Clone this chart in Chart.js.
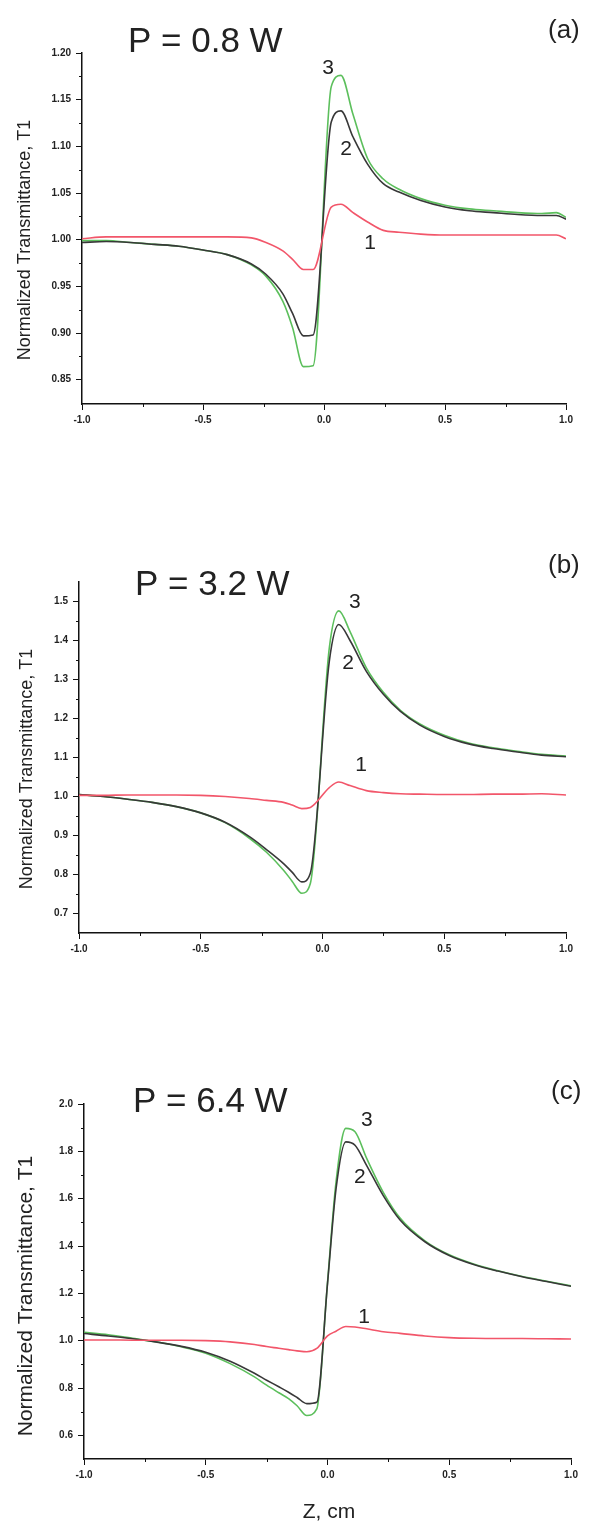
<!DOCTYPE html>
<html>
<head>
<meta charset="utf-8">
<script src="https://cdn.jsdelivr.net/npm/chart.js@4.4.1/dist/chart.umd.min.js"></script>
<style>
  html, body { margin: 0; padding: 0; background: #fff; }
  body { width: 597px; height: 1524px; position: relative; overflow: hidden; }
  canvas { position: absolute; left: 0; }
</style>
</head>
<body>
<canvas id="chartA" width="597" height="445" style="top:0px"></canvas>
<canvas id="chartB" width="597" height="440" style="top:530px"></canvas>
<canvas id="chartC" width="597" height="464" style="top:1060px"></canvas>
<script>
// (a) P = 0.8 W
var zA = [-1.0, -0.9, -0.8, -0.7, -0.6, -0.5, -0.4, -0.3, -0.24, -0.17, -0.13, -0.085, -0.045, 0.03, 0.07, 0.12, 0.18, 0.245, 0.31, 0.4, 0.5, 0.6, 0.7, 0.8, 0.9, 0.96, 1.0];
var redA = [1.001, 1.003, 1.003, 1.003, 1.003, 1.003, 1.003, 1.002, 0.997, 0.988, 0.979, 0.968, 0.968, 1.035, 1.038, 1.029, 1.019, 1.010, 1.008, 1.006, 1.005, 1.005, 1.005, 1.005, 1.005, 1.005, 1.001];
var blackA = [0.997, 0.998, 0.997, 0.995, 0.993, 0.989, 0.984, 0.974, 0.963, 0.942, 0.921, 0.897, 0.898, 1.126, 1.138, 1.110, 1.081, 1.060, 1.051, 1.042, 1.035, 1.031, 1.029, 1.027, 1.026, 1.026, 1.022];
var greenA = [0.999, 0.999, 0.997, 0.995, 0.993, 0.989, 0.984, 0.973, 0.961, 0.934, 0.906, 0.864, 0.865, 1.164, 1.176, 1.134, 1.087, 1.065, 1.054, 1.044, 1.037, 1.033, 1.031, 1.029, 1.028, 1.029, 1.024];
var yTicksA = [0.85, 0.90, 0.95, 1.00, 1.05, 1.10, 1.15, 1.20];
var yMinorA = [0.875, 0.925, 0.975, 1.025, 1.075, 1.125, 1.175];

// (b) P = 3.2 W
var zB = [-1.0, -0.9, -0.8, -0.7, -0.6, -0.5, -0.4, -0.3, -0.23, -0.16, -0.125, -0.085, -0.05, 0.028, 0.067, 0.113, 0.18, 0.25, 0.32, 0.4, 0.5, 0.6, 0.7, 0.8, 0.9, 1.0];
var redB = [1.003, 1.003, 1.004, 1.004, 1.004, 1.003, 1.000, 0.995, 0.990, 0.985, 0.978, 0.969, 0.972, 1.023, 1.037, 1.028, 1.015, 1.010, 1.007, 1.006, 1.005, 1.005, 1.006, 1.006, 1.007, 1.004];
var blackB = [1.005, 1.000, 0.993, 0.985, 0.974, 0.958, 0.934, 0.897, 0.864, 0.828, 0.806, 0.781, 0.803, 1.347, 1.441, 1.400, 1.321, 1.262, 1.218, 1.183, 1.154, 1.135, 1.123, 1.114, 1.106, 1.102];
var greenB = [1.005, 1.000, 0.993, 0.985, 0.974, 0.958, 0.933, 0.893, 0.857, 0.811, 0.783, 0.752, 0.777, 1.381, 1.476, 1.423, 1.330, 1.267, 1.221, 1.186, 1.157, 1.137, 1.125, 1.116, 1.108, 1.104];
var yTicksB = [0.7, 0.8, 0.9, 1.0, 1.1, 1.2, 1.3, 1.4, 1.5];
var yMinorB = [0.75, 0.85, 0.95, 1.05, 1.15, 1.25, 1.35, 1.45];

// (c) P = 6.4 W
var zC = [-1.0, -0.9, -0.8, -0.7, -0.6, -0.5, -0.4, -0.3, -0.25, -0.2, -0.16, -0.125, -0.085, -0.044, 0.0, 0.035, 0.075, 0.113, 0.161, 0.229, 0.298, 0.4, 0.5, 0.6, 0.7, 0.8, 0.9, 1.0];
var redC = [1.003, 1.003, 1.002, 1.002, 1.002, 1.000, 0.995, 0.984, 0.975, 0.968, 0.962, 0.957, 0.953, 0.967, 1.020, 1.040, 1.060, 1.058, 1.050, 1.038, 1.031, 1.020, 1.013, 1.010, 1.009, 1.009, 1.008, 1.007];
var blackC = [1.030, 1.020, 1.008, 0.994, 0.976, 0.951, 0.913, 0.862, 0.833, 0.805, 0.782, 0.760, 0.734, 0.740, 1.240, 1.641, 1.840, 1.826, 1.740, 1.613, 1.510, 1.418, 1.360, 1.322, 1.294, 1.270, 1.250, 1.230];
var greenC = [1.035, 1.025, 1.010, 0.994, 0.974, 0.947, 0.903, 0.847, 0.812, 0.780, 0.755, 0.725, 0.684, 0.712, 1.245, 1.670, 1.897, 1.883, 1.770, 1.627, 1.518, 1.422, 1.363, 1.324, 1.295, 1.271, 1.251, 1.232];
var yTicksC = [0.6, 0.8, 1.0, 1.2, 1.4, 1.6, 1.8, 2.0];
var yMinorC = [0.7, 0.9, 1.1, 1.3, 1.5, 1.7, 1.9];

var zTicks = [-1.0, -0.5, 0.0, 0.5, 1.0];
var zMinor = [-0.75, -0.25, 0.25, 0.75];

var FONT = '"Liberation Sans", Arial, sans-serif';

function pairs(xs, ys) {
	var out = [];
	for (var i = 0; i < xs.length; i++) {
		out.push({x: xs[i], y: ys[i]});
	}
	return out;
}

// minor ticks, curve numbers, panel titles and the rotated axis title
var decor = {
	id: 'decor',
	afterDraw: function(chart, args, o) {
		var ctx = chart.ctx, xs = chart.scales.x, ys = chart.scales.y, area = chart.chartArea;
		ctx.save();
		ctx.strokeStyle = '#111';
		ctx.lineWidth = 1;
		o.xMinor.forEach(function(v) {
			var px = Math.round(xs.getPixelForValue(v)) + 0.5;
			ctx.beginPath(); ctx.moveTo(px, area.bottom); ctx.lineTo(px, area.bottom + 3); ctx.stroke();
		});
		o.yMinor.forEach(function(v) {
			var py = Math.round(ys.getPixelForValue(v)) + 0.5;
			ctx.beginPath(); ctx.moveTo(area.left - 3, py); ctx.lineTo(area.left, py); ctx.stroke();
		});

		ctx.fillStyle = '#222';
		ctx.textAlign = 'center';
		ctx.textBaseline = 'middle';
		ctx.font = '21px ' + FONT;
		o.marks.forEach(function(m) {
			ctx.fillText(m.text, xs.getPixelForValue(m.z), ys.getPixelForValue(m.v));
		});

		ctx.textBaseline = 'alphabetic';
		ctx.textAlign = 'left';
		ctx.font = '35px ' + FONT;
		ctx.fillText(o.title, o.titleX, o.titleY);
		ctx.font = '26px ' + FONT;
		ctx.fillText(o.tag, o.tagX, o.tagY);

		if (o.xTitle) {
			ctx.textAlign = 'center';
			ctx.font = '21px ' + FONT;
			ctx.fillText(o.xTitle, o.xTitleX, o.xTitleY);
		}

		ctx.translate(o.yTitleX, o.yTitleY);
		ctx.rotate(-Math.PI / 2);
		ctx.textAlign = 'center';
		ctx.textBaseline = 'middle';
		ctx.font = o.yTitleSize + 'px ' + FONT;
		ctx.fillText('Normalized Transmittance, T1', 0, 0);
		ctx.restore();
	}
};

function makePanel(p) {
	var datasets = [
		{label: '1', data: pairs(p.z, p.red), borderColor: '#f2566a'},
		{label: '2', data: pairs(p.z, p.black), borderColor: '#383838'},
		{label: '3', data: pairs(p.z, p.green), borderColor: '#5cbf5c'}
	];
	datasets.forEach(function(d) {
		d.borderWidth = 1.6;
		d.pointRadius = 0;
		d.fill = false;
		d.cubicInterpolationMode = 'monotone';
	});

	new Chart(document.getElementById(p.id), {
		type: 'line',
		data: {datasets: datasets},
		plugins: [decor],
		options: {
			responsive: false,
			animation: false,
			devicePixelRatio: 1,
			layout: {padding: {top: p.top, right: p.right, left: 0, bottom: 0}},
			plugins: {
				legend: {display: false},
				tooltip: {enabled: false},
				decor: p.decor
			},
			scales: {
				x: {
					type: 'linear',
					min: -1, max: 1,
					afterBuildTicks: function(s) { s.ticks = zTicks.map(function(v) { return {value: v}; }); },
					afterFit: function(s) { s.height = p.bottomSpace; },
					border: {display: true, color: '#111', width: 1.5},
					grid: {drawOnChartArea: false, drawTicks: true, tickLength: 6, tickColor: '#111', tickWidth: 1},
					ticks: {
						padding: 4,
						maxRotation: 0,
						color: '#222',
						font: {family: FONT, size: 10, weight: 'bold'},
						callback: function(v) { return Number(v).toFixed(1); }
					}
				},
				y: {
					type: 'linear',
					min: p.yMin, max: p.yMax,
					afterBuildTicks: function(s) { s.ticks = p.yTicks.map(function(v) { return {value: v}; }); },
					afterFit: function(s) { s.width = p.left; },
					border: {display: true, color: '#111', width: 1.5},
					grid: {drawOnChartArea: false, drawTicks: true, tickLength: 6, tickColor: '#111', tickWidth: 1},
					ticks: {
						padding: 5,
						color: '#222',
						font: {family: FONT, size: 10, weight: 'bold'},
						callback: function(v) { return Number(v).toFixed(p.digits); }
					}
				}
			}
		}
	});
}

makePanel({
	id: 'chartA', z: zA, red: redA, black: blackA, green: greenA,
	yMin: 0.824, yMax: 1.20, yTicks: yTicksA, digits: 2,
	left: 82, right: 31, top: 53, bottomSpace: 41,
	decor: {
		xMinor: zMinor, yMinor: yMinorA,
		marks: [{text: '3', z: 0.017, v: 1.184}, {text: '2', z: 0.091, v: 1.097}, {text: '1', z: 0.19, v: 0.996}],
		title: 'P = 0.8 W', titleX: 128, titleY: 52,
		tag: '(a)', tagX: 548, tagY: 38,
		yTitleX: 25, yTitleY: 240, yTitleSize: 18
	}
});

makePanel({
	id: 'chartB', z: zB, red: redB, black: blackB, green: greenB,
	yMin: 0.65, yMax: 1.55, yTicks: yTicksB, digits: 1,
	left: 79, right: 31, top: 52, bottomSpace: 37,
	decor: {
		xMinor: zMinor, yMinor: yMinorB,
		marks: [{text: '3', z: 0.133, v: 1.497}, {text: '2', z: 0.105, v: 1.342}, {text: '1', z: 0.158, v: 1.079}],
		title: 'P = 3.2 W', titleX: 135, titleY: 65,
		tag: '(b)', tagX: 548, tagY: 43,
		yTitleX: 27, yTitleY: 239, yTitleSize: 18
	}
});

makePanel({
	id: 'chartC', z: zC, red: redC, black: blackC, green: greenC,
	yMin: 0.5, yMax: 2.0, yTicks: yTicksC, digits: 1,
	left: 84, right: 26, top: 44, bottomSpace: 65,
	decor: {
		xMinor: zMinor, yMinor: yMinorC,
		marks: [{text: '3', z: 0.162, v: 1.93}, {text: '2', z: 0.133, v: 1.692}, {text: '1', z: 0.15, v: 1.10}],
		title: 'P = 6.4 W', titleX: 133, titleY: 52,
		tag: '(c)', tagX: 551, tagY: 39,
		xTitle: 'Z, cm', xTitleX: 329, xTitleY: 458,
		yTitleX: 26, yTitleY: 236, yTitleSize: 21
	}
});
</script>
</body>
</html>
